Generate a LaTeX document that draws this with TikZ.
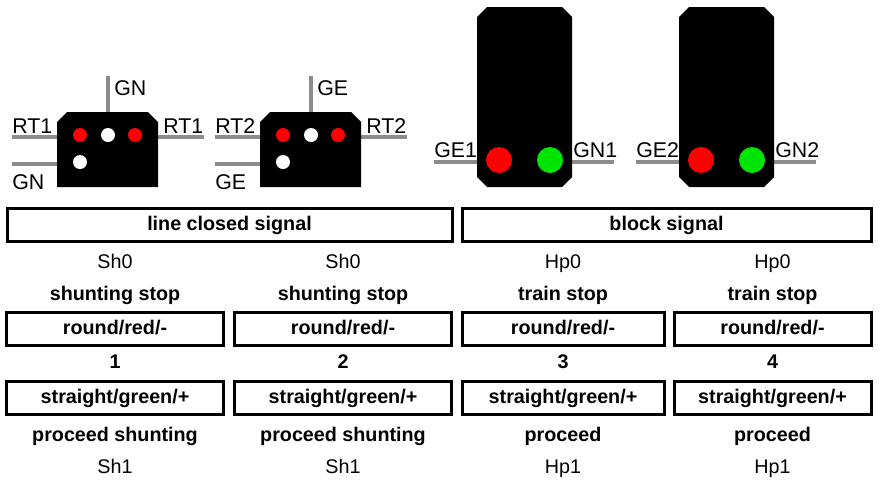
\documentclass[tikz,border=0pt]{standalone}
\usepackage{fontspec}
\setmainfont{Liberation Sans}
\begin{document}
\begin{tikzpicture}[x=0.75pt,y=-0.75pt,
  pole/.style={draw=gray!90,line width=3.5pt*0.75},
  body/.style={fill=black,draw=none},
  lamp/.style={circle,minimum size=14pt*0.75,inner sep=0pt},
  blamp/.style={circle,minimum size=26pt*0.75,inner sep=0pt},
  lbl/.style={font=\fontsize{16}{18}\selectfont,inner sep=0pt,anchor=base west},
  box/.style={draw=black,line width=3pt*0.75,fill=white,inner sep=0pt,text height=2.0ex,text depth=0.2ex,font=\bfseries\fontsize{14.8}{17}\selectfont},
  txt/.style={font=\fontsize{14.8}{17}\selectfont,inner sep=0pt,anchor=base},
  btxt/.style={font=\bfseries\fontsize{14.8}{17}\selectfont,inner sep=0pt,anchor=base}]
\useasboundingbox (0,0) rectangle (880,483);
% shunting signals
\foreach \dx/\top/\side/\low/\i in {0/GN/RT1/GN/a,203/GE/RT2/GE/b}{
  \begin{scope}[xshift=\dx*0.75pt]
  \draw[pole] (108,76) -- (108,112);
  \draw[pole] (12,137) -- (57,137);
  \draw[pole] (12,164) -- (57,164);
  \draw[pole] (158,137) -- (204,137);
  \fill[body] (67,112) -- (148,112) -- (158,122) -- (158,187) -- (57,187) -- (57,122) -- cycle;
  \node[lamp,fill=red] (r1\i) at (80,135) {};
  \node[lamp,fill=white] (w1\i) at (108,135) {};
  \node[lamp,fill=red] (r2\i) at (135,135) {};
  \node[lamp,fill=white] (w2\i) at (80,162) {};
  \node[lbl] (t\i) at (114,95) {\top};
  \node[lbl] (sl\i) at (12,133) {\side};
  \node[lbl] (sr\i) at (163,133) {\side};
  \node[lbl] (lo\i) at (12,189) {\low};
  \end{scope}}
% block signals
\foreach \dx/\l/\r/\i in {0/GE1/GN1/c,202/GE2/GN2/d}{
  \begin{scope}[xshift=\dx*0.75pt]
  \draw[pole] (434,162) -- (477,162);
  \draw[pole] (572,162) -- (614,162);
  \fill[body] (487,7) -- (562,7) -- (572,17) -- (572,177) -- (562,187) -- (487,187) -- (477,177) -- (477,17) -- cycle;
  \node[blamp,fill=red] (br\i) at (499,160) {};
  \node[blamp,fill=green!90!black] (bg\i) at (550,160) {};
  \node[lbl] (bl\i) at (434,157) {\l};
  \node[lbl] (bb\i) at (573,157) {\r};
  \end{scope}}
% headers
\node[box,minimum width=445pt*0.75,minimum height=33pt*0.75] (h1) at (229.5,224.5) {line closed signal};
\node[box,minimum width=409pt*0.75,minimum height=33pt*0.75] (h2) at (666.5,224.5) {block signal};
% columns
\foreach \cx/\w/\a/\b/\n/\c/\d [count=\k] in {115/217/Sh0/shunting stop/1/proceed shunting/Sh1,343/217/Sh0/shunting stop/2/proceed shunting/Sh1,563/202/Hp0/train stop/3/proceed/Hp1,772.5/197/Hp0/train stop/4/proceed/Hp1}{
  \node[txt] (s\k) at (\cx,268) {\a};
  \node[btxt] (st\k) at (\cx,300) {\b};
  \node[box,minimum width=\w*0.75pt,minimum height=33pt*0.75] (rr\k) at (\cx,328.5) {round/red/-};
  \node[btxt] (n\k) at (\cx,368) {\n};
  \node[box,minimum width=\w*0.75pt,minimum height=33pt*0.75] (sg\k) at (\cx,397.5) {straight/green/+};
  \node[btxt] (p\k) at (\cx,441) {\c};
  \node[txt] (e\k) at (\cx,473) {\d};
}
\end{tikzpicture}
\end{document}
